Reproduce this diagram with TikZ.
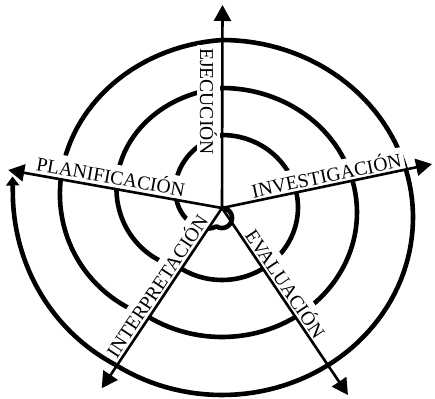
\documentclass[tikz,border=0pt]{standalone}
\usepackage{fontspec}
\setmainfont{Liberation Serif}
\usetikzlibrary{arrows.meta}
\begin{document}
\begin{tikzpicture}[x=1pt,y=1pt,
  declare function={ease(\f)=\f*(1.3-0.3*\f);},
  spiralline/.style={line width=4.6pt, line join=round},
  axisline/.style={line width=2.6pt, -{Triangle[length=16pt,width=17pt]}},
  lbl/.style={fill=white, inner sep=3pt, font=\fontsize{19.6}{20}\selectfont, anchor=base}]
\useasboundingbox (-222,-190) rectangle (213,208);
\coordinate (O) at (0,0);
\coordinate (tEje) at (0.5,203);
\coordinate (tPla) at (-213.7,38);
\coordinate (tInv) at (210,44);
\coordinate (tEva) at (126,-187);
\coordinate (tInt) at (-120.3,-180.3);
\coordinate (spEnd) at (-209.5,31.5);
% spiral
\draw[spiralline, -{Triangle[length=9pt,width=13pt]}]
  plot[domain=0:214, samples=60] ({10*cos(90-\x)},{10*sin(90-\x)-10})
  -- plot[domain=214:360, samples=60] ({(10+66*ease((\x-214)/146))*cos(90-\x)},{(10+62.5*ease((\x-214)/146))*sin(90-\x)-10+10.5*ease((\x-214)/146)})
  -- plot[domain=360:574, samples=70] ({76*cos(90-\x)},{72.5*sin(90-\x)+0.5})
  -- plot[domain=574:720, samples=60] ({(76+59*ease((\x-574)/146))*cos(90-\x)},{(72.5+52*ease((\x-574)/146))*sin(90-\x)+0.5-5*ease((\x-574)/146)})
  -- plot[domain=720:934, samples=80] ({135*cos(90-\x)},{124.5*sin(90-\x)-4.5})
  -- plot[domain=934:1080, samples=60] ({(135+56*ease((\x-934)/146))*cos(90-\x)},{(124.5+53*ease((\x-934)/146))*sin(90-\x)-4.5-5*ease((\x-934)/146)})
  -- plot[domain=1080:1294, samples=90] ({191*cos(90-\x)},{177.5*sin(90-\x)-9.5})
  -- plot[domain=1294:1352, samples=30] ({(191+20*((\x-1294)/64))*cos(90-\x)},{(177.5+25*((\x-1294)/64))*sin(90-\x)-9.5+10*((\x-1294)/64)})
  -- (spEnd);
% labels
\node[lbl, rotate=-90] (ej) at (-22,106.5) {EJECUCIÓN};
\node[lbl, rotate=-10.1] (pl) at (-112.5,24.5) {PLANIFICACIÓN};
\node[lbl, rotate=11.8] (in) at (106,25.5) {INVESTIGACIÓN};
\node[lbl, rotate=-56] (ev) at (57.5,-79.6) {EVALUACIÓN};
\node[lbl, rotate=56.3] (it) at (-59.1,-82) {INTERPRETACIÓN};
% axes
\draw[axisline] (O) -- (tEje);
\draw[axisline] (O) -- (tPla);
\draw[axisline] (O) -- (tInv);
\draw[axisline] (O) -- (tEva);
\draw[axisline] (O) -- (tInt);
\end{tikzpicture}
\end{document}
